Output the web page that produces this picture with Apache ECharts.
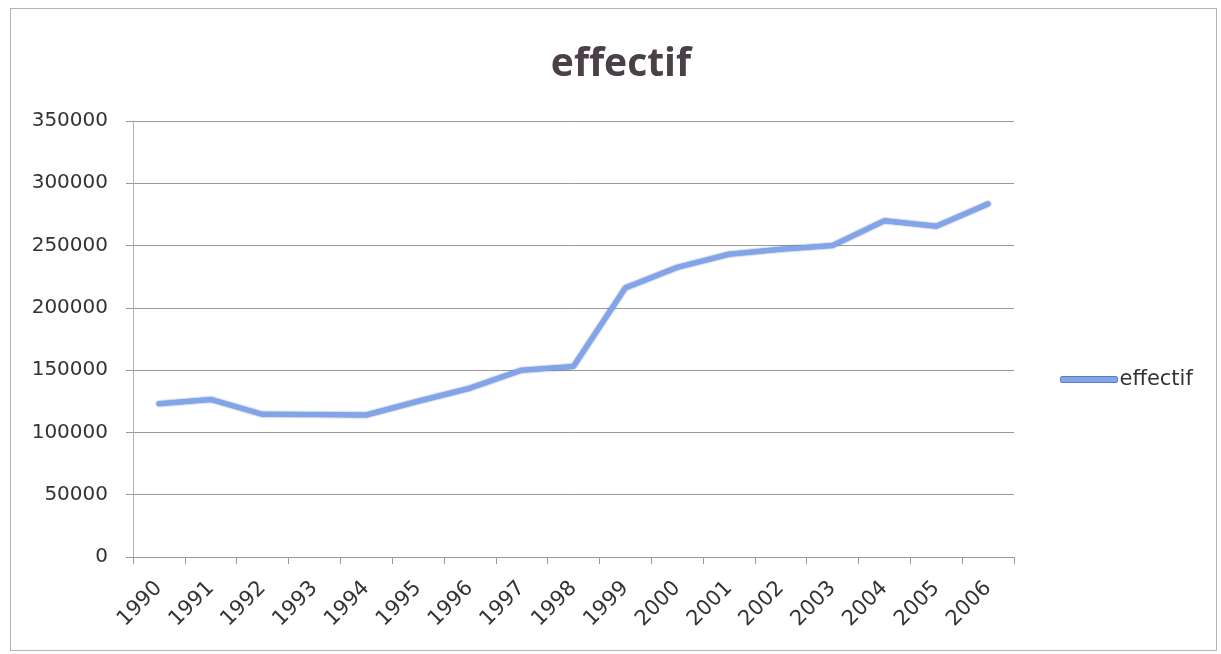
<!DOCTYPE html>
<html>
<head>
<meta charset="utf-8">
<title>effectif</title>
<script src="https://cdn.jsdelivr.net/npm/echarts@6/dist/echarts.min.js"></script>
<style>
  html, body { margin: 0; padding: 0; background: #ffffff; }
  #frame { position: absolute; left: 10px; top: 8px; width: 1207px; height: 643px; border: 1px solid #b4b4b4; box-sizing: border-box; }
  #chart { position: absolute; left: 0; top: 0; width: 1221px; height: 654px; }
</style>
</head>
<body>
<div id="frame"></div>
<div id="chart"></div>
<script>
// Years on the category axis
const years = ['1990', '1991', '1992', '1993', '1994', '1995', '1996', '1997', '1998',
               '1999', '2000', '2001', '2002', '2003', '2004', '2005', '2006'];
// Headcount per year
const effectif = [123000, 126500, 114500, 114300, 114000, 125000, 135500, 150000, 153000,
                  216000, 232500, 243000, 247000, 250000, 270000, 265500, 283500];
const seriesName = 'effectif';

const labelFont = 'DejaVu Sans';
const chart = echarts.init(document.getElementById('chart'), null, { renderer: 'canvas' });

chart.setOption({
  backgroundColor: 'transparent',
  animation: false,
  title: {
    text: 'effectif',
    left: 616,
    top: 40,
    textAlign: 'center',
    textStyle: { fontFamily: 'Open Sans', fontWeight: 'bold', fontSize: 39, color: '#4b4048' }
  },
  legend: {
    data: [seriesName],
    left: 1055,
    top: 364,
    icon: 'roundRect',
    itemWidth: 57,
    itemHeight: 6,
    itemGap: 4,
    textStyle: { fontFamily: labelFont, fontSize: 21, color: '#333333', padding: [0, 0, 0, -3] },
    itemStyle: { color: '#82a5ea', borderColor: '#5a7cc6', borderWidth: 1 }
  },
  grid: { left: 133, right: 207, top: 121, bottom: 97, containLabel: false },
  xAxis: {
    type: 'category',
    data: years,
    boundaryGap: true,
    axisLine: { show: true, lineStyle: { color: '#9a9a9a', width: 1 } },
    axisTick: { show: true, length: 7, alignWithLabel: false, lineStyle: { color: '#9a9a9a' } },
    axisLabel: { rotate: 45, margin: 28, interval: 0, fontFamily: labelFont, fontSize: 21, color: '#333333' },
    splitLine: { show: false }
  },
  yAxis: {
    type: 'value',
    min: 0,
    max: 350000,
    interval: 50000,
    axisLine: { show: true, lineStyle: { color: '#b0b0b0', width: 1 } },
    axisTick: { show: true, length: 7, lineStyle: { color: '#9a9a9a' } },
    axisLabel: {
      margin: 25, fontFamily: labelFont, fontSize: 20, color: '#333333',
      formatter: function (v) { return String(v); }
    },
    splitLine: { show: true, lineStyle: { color: '#9a9a9a', width: 1 } }
  },
  series: [{
    name: seriesName,
    type: 'line',
    data: effectif,
    symbol: 'none',
    lineStyle: {
      color: '#82a5ea',
      width: 5,
      cap: 'round',
      join: 'round',
      shadowColor: 'rgba(55, 85, 165, 0.85)',
      shadowBlur: 2
    },
    itemStyle: { color: '#82a5ea' }
  }]
});
</script>
</body>
</html>
